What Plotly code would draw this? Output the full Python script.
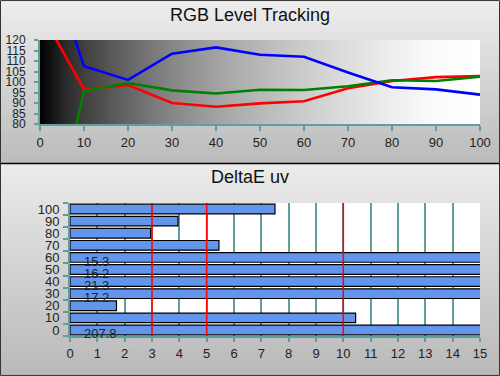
import base64, struct, zlib
import numpy as np
import plotly.graph_objects as go

# ---------------- data ----------------
levels = [0, 10, 20, 30, 40, 50, 60, 70, 80, 90, 100]
red = [134, 96.5, 98.5, 90.0, 88.2, 89.8, 90.8, 97.0, 100.5, 102.3, 102.8]
green = [3, 95.8, 99.5, 96.0, 94.5, 96.3, 96.2, 98.0, 100.8, 100.5, 102.5]
blue = [170, 107.5, 101.0, 113.5, 116.5, 113.0, 112.0, 104.5, 97.5, 96.5, 94.0]

de_cats = ["0", "10", "20", "30", "40", "50", "60", "70", "80", "90", "100"]
de_vals = [207.8, 10.45, 1.7, 17.2, 21.3, 16.2, 15.3, 5.45, 2.95, 3.95, 7.5]
ref_lines = [3, 5, 10]

TEAL = "#5f9e9a"
W, H = 500, 376


def gray_png(values):
    """Tiny vertical PNG gradient (styling only)."""
    n = len(values)
    raw = b"".join(b"\x00" + bytes([int(v)]) for v in values)

    def chunk(t, d):
        c = struct.pack(">I", len(d)) + t + d
        return c + struct.pack(">I", zlib.crc32(t + d) & 0xffffffff)

    png = b"\x89PNG\r\n\x1a\n" + chunk(b"IHDR", struct.pack(">IIBBBBB", 1, n, 8, 0, 0, 0, 0))
    png += chunk(b"IDAT", zlib.compress(raw)) + chunk(b"IEND", b"")
    return "data:image/png;base64," + base64.b64encode(png).decode()


top_grad = gray_png(np.linspace(238, 188, 64))
bot_grad = gray_png(np.linspace(236, 186, 64))

fig = go.Figure()

# ---- top panel background gradient heatmap (plot area) ----
gx = np.linspace(0, 100, 51)
fig.add_trace(go.Heatmap(
    x=gx, y=[80, 120], z=[gx, gx], zsmooth="best", showscale=False, hoverinfo="skip",
    colorscale=[[0, "#000000"], [0.05, "#262626"], [0.1, "#404040"], [0.2, "#666666"],
                [0.3, "#878787"], [0.4, "#a2a2a2"], [0.5, "#b8b8b8"], [0.6, "#cccccc"],
                [0.7, "#dedede"], [0.8, "#eeeeee"], [0.9, "#fbfbfb"], [1, "#ffffff"]],
    xaxis="x", yaxis="y"))

for vals, col in [(red, "#ff0000"), (green, "#008000"), (blue, "#0000ff")]:
    fig.add_trace(go.Scatter(x=levels, y=vals, mode="lines", line=dict(color=col, width=2.6),
                             xaxis="x", yaxis="y", showlegend=False, hoverinfo="skip"))

fig.add_trace(go.Bar(y=de_cats, x=de_vals, orientation="h", xaxis="x2", yaxis="y2",
                     marker=dict(color="#6495ed", line=dict(color="#000000", width=1.2)),
                     showlegend=False, hoverinfo="skip"))

FONT = "Liberation Sans, Arial, sans-serif"
tickfont = dict(family=FONT, size=13, color="#222222")
ytickfont = dict(family=FONT, size=12, color="#222222")

fig.update_layout(
    width=W, height=H, margin=dict(l=0, r=0, t=0, b=0),
    paper_bgcolor="#d0d0d0", plot_bgcolor="#ffffff",
    bargap=0.2,
    xaxis=dict(domain=[40 / W, 480 / W], anchor="y", range=[0, 100], tickvals=levels,
               automargin=False, showgrid=False, zeroline=False, showline=True,
               linecolor=TEAL, linewidth=2, ticks="outside", ticklen=5, tickwidth=2,
               tickcolor=TEAL, tickfont=tickfont),
    yaxis=dict(domain=[1 - 124 / H, 1 - 40 / H], anchor="x", range=[80, 120], dtick=5,
               automargin=False, showgrid=True, gridcolor=TEAL, gridwidth=1.5, zeroline=False,
               showline=True, linecolor=TEAL, linewidth=2, ticklabelstandoff=6,
               ticks="outside", ticklen=4, tickwidth=2, tickcolor=TEAL, tickfont=ytickfont),
    xaxis2=dict(domain=[70 / W, 480 / W], anchor="y2", range=[0, 15], dtick=1,
                automargin=False, showgrid=True, gridcolor=TEAL, gridwidth=1.5, zeroline=False,
                showline=True, linecolor=TEAL, linewidth=2,
                ticks="outside", ticklen=4, tickwidth=2, tickcolor=TEAL, tickfont=tickfont),
    yaxis2=dict(domain=[1 - 336 / H, 1 - 203 / H], anchor="x2", type="category",
                categoryorder="array", categoryarray=de_cats, range=[-0.5, len(de_cats) - 0.5],
                tickmode="array", tickvals=de_cats, ticktext=de_cats, ticklabelstandoff=6,
                tickson="boundaries", automargin=False, showgrid=False, zeroline=False,
                showline=True, linecolor=TEAL, linewidth=2,
                ticks="outside", ticklen=5, tickwidth=2, tickcolor=TEAL, tickfont=tickfont),
)

# panel gradients
fig.add_layout_image(source=top_grad, xref="paper", yref="paper", x=0, y=1, sizex=1,
                     sizey=163.5 / H, sizing="stretch", xanchor="left", yanchor="top", layer="below")
fig.add_layout_image(source=bot_grad, xref="paper", yref="paper", x=0, y=1 - 163.5 / H, sizex=1,
                     sizey=1 - 163.5 / H, sizing="stretch", xanchor="left", yanchor="top", layer="below")

# white plot area for bottom panel
fig.add_shape(type="rect", xref="x2 domain", yref="y2 domain", x0=0, x1=1, y0=0, y1=1,
              fillcolor="#ffffff", line_width=0, layer="below")

# reference lines
for v in ref_lines:
    fig.add_shape(type="line", xref="x2", yref="y2 domain", x0=v, x1=v, y0=0, y1=1,
                  line=dict(color="#ff0000", width=1.5), layer="above")

# labels for clipped bars
for i, v in enumerate(de_vals):
    if v > 15:
        fig.add_annotation(x=0.44, y=i, xref="x2", yref="y2", text=f"{v:.1f}", showarrow=False,
                           xanchor="left", yshift=-4,
                           font=dict(family=FONT, size=13, color="#222222"))

# titles
titlefont = dict(family=FONT, size=18, color="#111111")
fig.add_annotation(x=0.5, y=1 - 15 / H, xref="paper", yref="paper", text="RGB Level Tracking",
                   showarrow=False, yanchor="middle", font=titlefont)
fig.add_annotation(x=0.5, y=1 - 177 / H, xref="paper", yref="paper", text="DeltaE uv",
                   showarrow=False, yanchor="middle", font=titlefont)

# borders
fig.add_shape(type="line", xref="paper", yref="paper", x0=0, x1=1, y0=1 - 163.5 / H, y1=1 - 163.5 / H,
              line=dict(color="#000000", width=1.5))
fig.add_shape(type="rect", xref="paper", yref="paper", x0=0.001, x1=0.999, y0=0.0015, y1=0.9985,
              line=dict(color="#333333", width=1), fillcolor="rgba(0,0,0,0)")

fig.write_html("out.html", config={"displayModeBar": False},
               post_script="document.body.style.margin='0';document.body.style.padding='0';"
                           "document.body.style.overflow='hidden';")
